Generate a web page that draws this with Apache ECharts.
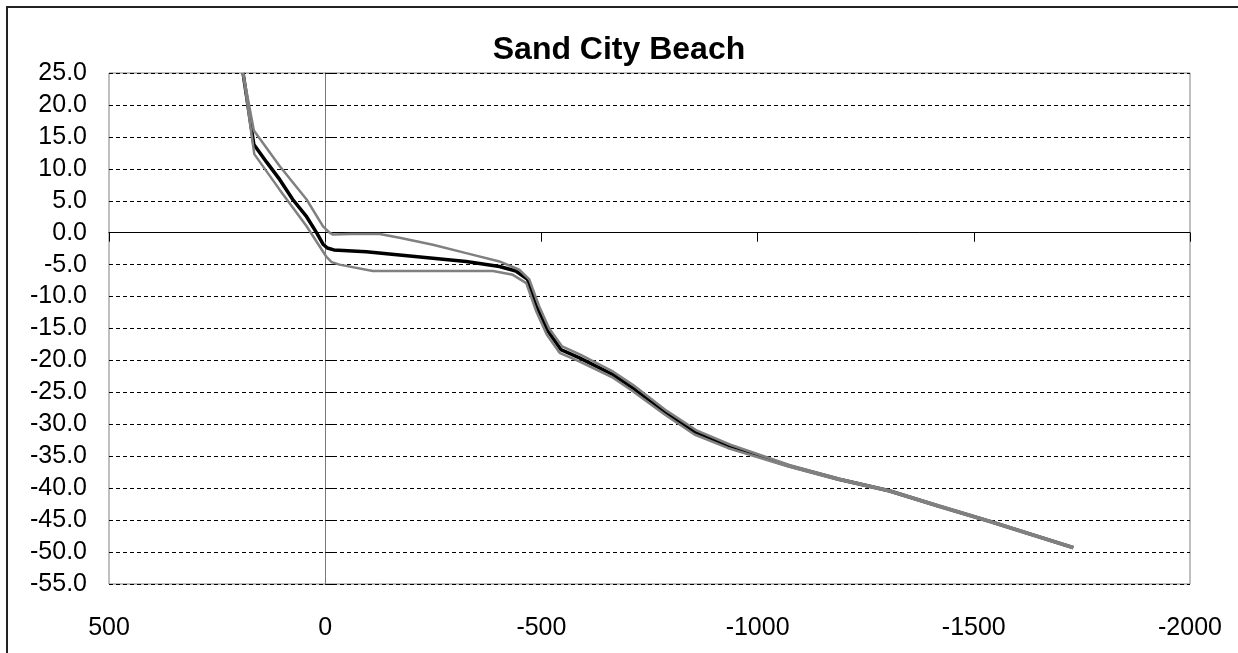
<!DOCTYPE html>
<html>
<head>
<meta charset="utf-8">
<title>Sand City Beach</title>
<script src="https://cdn.jsdelivr.net/npm/echarts@6/dist/echarts.min.js"></script>
<style>
  html, body { margin: 0; padding: 0; background: #fff; }
  #chart { width: 1238px; height: 653px; }
</style>
</head>
<body>
<div id="chart"></div>
<script>
  // profile data: [distance, elevation]
  let meanProfile = [
    [190, 25.0], [165, 13.8], [135, 11.0], [105, 8.3], [75, 5.2], [43, 2.5], [20, 0.0],
    [5, -1.8], [-5, -2.4], [-20, -2.7], [-95, -3.0], [-172, -3.5], [-249, -4.0],
    [-326, -4.5], [-403, -5.3], [-441, -6.0], [-468, -7.3], [-491, -11.8], [-515, -15.4],
    [-545, -18.3], [-588, -19.6], [-665, -22.2], [-711, -24.3], [-788, -28.2],
    [-857, -31.3], [-934, -33.4], [-957, -34.0], [-1073, -36.5], [-1188, -38.6],
    [-1304, -40.4], [-1419, -42.8], [-1537, -45.2], [-1730, -49.3]
  ];
  let upperProfile = [
    [190, 25.0], [165, 16.0], [105, 10.4], [43, 5.2], [5, 1.0], [-10, 0.0], [-18, -0.3],
    [-60, -0.2], [-126, -0.2], [-172, -0.8], [-249, -1.9], [-326, -3.2], [-403, -4.5],
    [-449, -5.8], [-472, -7.3], [-494, -11.4], [-518, -15.0], [-548, -17.8], [-590, -19.1],
    [-667, -21.8], [-713, -23.9], [-790, -27.9], [-860, -31.0], [-937, -33.2],
    [-1075, -36.4], [-1190, -38.5], [-1305, -40.3], [-1420, -42.7], [-1537, -45.1],
    [-1730, -49.2]
  ];
  let lowerProfile = [
    [190, 25.0], [164, 12.3], [105, 6.7], [43, 1.0], [-3, -3.8], [-15, -4.6], [-33, -5.0],
    [-110, -6.0], [-249, -6.0], [-388, -6.0], [-434, -6.6], [-465, -7.9], [-488, -12.3],
    [-512, -15.9], [-542, -18.8], [-586, -20.1], [-663, -22.6], [-709, -24.7],
    [-786, -28.5], [-854, -31.6], [-931, -33.7], [-1071, -36.6], [-1186, -38.7],
    [-1303, -40.5], [-1418, -42.9], [-1537, -45.3], [-1730, -49.4]
  ];

  let font = "'Liberation Sans', Arial, sans-serif";
  let myChart = echarts.init(document.getElementById('chart'));

  let xBase = { type: 'value', min: -2000, max: 500, interval: 500, inverse: true, position: 'bottom' };
  let yBase = { type: 'value', min: -55, max: 25, interval: 5, position: 'left' };

  let option = {
    animation: false,
    backgroundColor: '#fff',
    title: {
      text: 'Sand City Beach',
      left: 'center',
      top: 34,
      padding: 0,
      textStyle: { fontFamily: font, fontSize: 32, fontWeight: 'bold', color: '#000' }
    },
    graphic: [{
      type: 'rect',
      shape: { x: 7, y: 7, width: 1300, height: 700 },
      style: { fill: 'none', stroke: '#222', lineWidth: 2 },
      silent: true
    }],
    grid: {
      left: 109,
      right: 48,
      top: 73,
      bottom: 69,
      show: true,
      borderColor: '#808080',
      borderWidth: 1
    },
    xAxis: [
      Object.assign({}, xBase, {
        axisLine: { show: false, onZero: false },
        axisTick: { show: false },
        splitLine: { show: false },
        axisLabel: {
          fontFamily: font, fontSize: 25, color: '#000', margin: 32,
          formatter: v => String(v)
        }
      }),
      Object.assign({}, xBase, {
        axisLine: { show: true, onZero: true, onZeroAxisIndex: 0, lineStyle: { color: '#000', width: 1 } },
        axisTick: { show: true, length: 9, lineStyle: { color: '#000' } },
        splitLine: { show: false },
        axisLabel: { show: false }
      })
    ],
    yAxis: [
      Object.assign({}, yBase, {
        axisLine: { show: false, onZero: false },
        axisTick: { show: false },
        splitLine: { show: true, lineStyle: { color: '#000', type: [4, 3], width: 1 } },
        axisLabel: {
          fontFamily: font, fontSize: 25, color: '#000', margin: 22,
          formatter: v => v.toFixed(1)
        }
      }),
      Object.assign({}, yBase, {
        axisLine: { show: true, onZero: true, onZeroAxisIndex: 0, lineStyle: { color: '#777', width: 1 } },
        axisTick: { show: true, inside: true, length: 9, lineStyle: { color: '#000' } },
        splitLine: { show: false },
        axisLabel: { show: false }
      })
    ],
    series: [
      {
        name: 'mean', type: 'line', data: meanProfile, symbol: 'none',
        xAxisIndex: 0, yAxisIndex: 0, clip: true,
        lineStyle: { color: '#000', width: 3.5 }
      },
      {
        name: 'upper', type: 'line', data: upperProfile, symbol: 'none',
        xAxisIndex: 0, yAxisIndex: 0, clip: true,
        lineStyle: { color: '#808080', width: 2.5 }
      },
      {
        name: 'lower', type: 'line', data: lowerProfile, symbol: 'none',
        xAxisIndex: 0, yAxisIndex: 0, clip: true,
        lineStyle: { color: '#808080', width: 2.5 }
      }
    ]
  };
  myChart.setOption(option);
</script>
</body>
</html>
